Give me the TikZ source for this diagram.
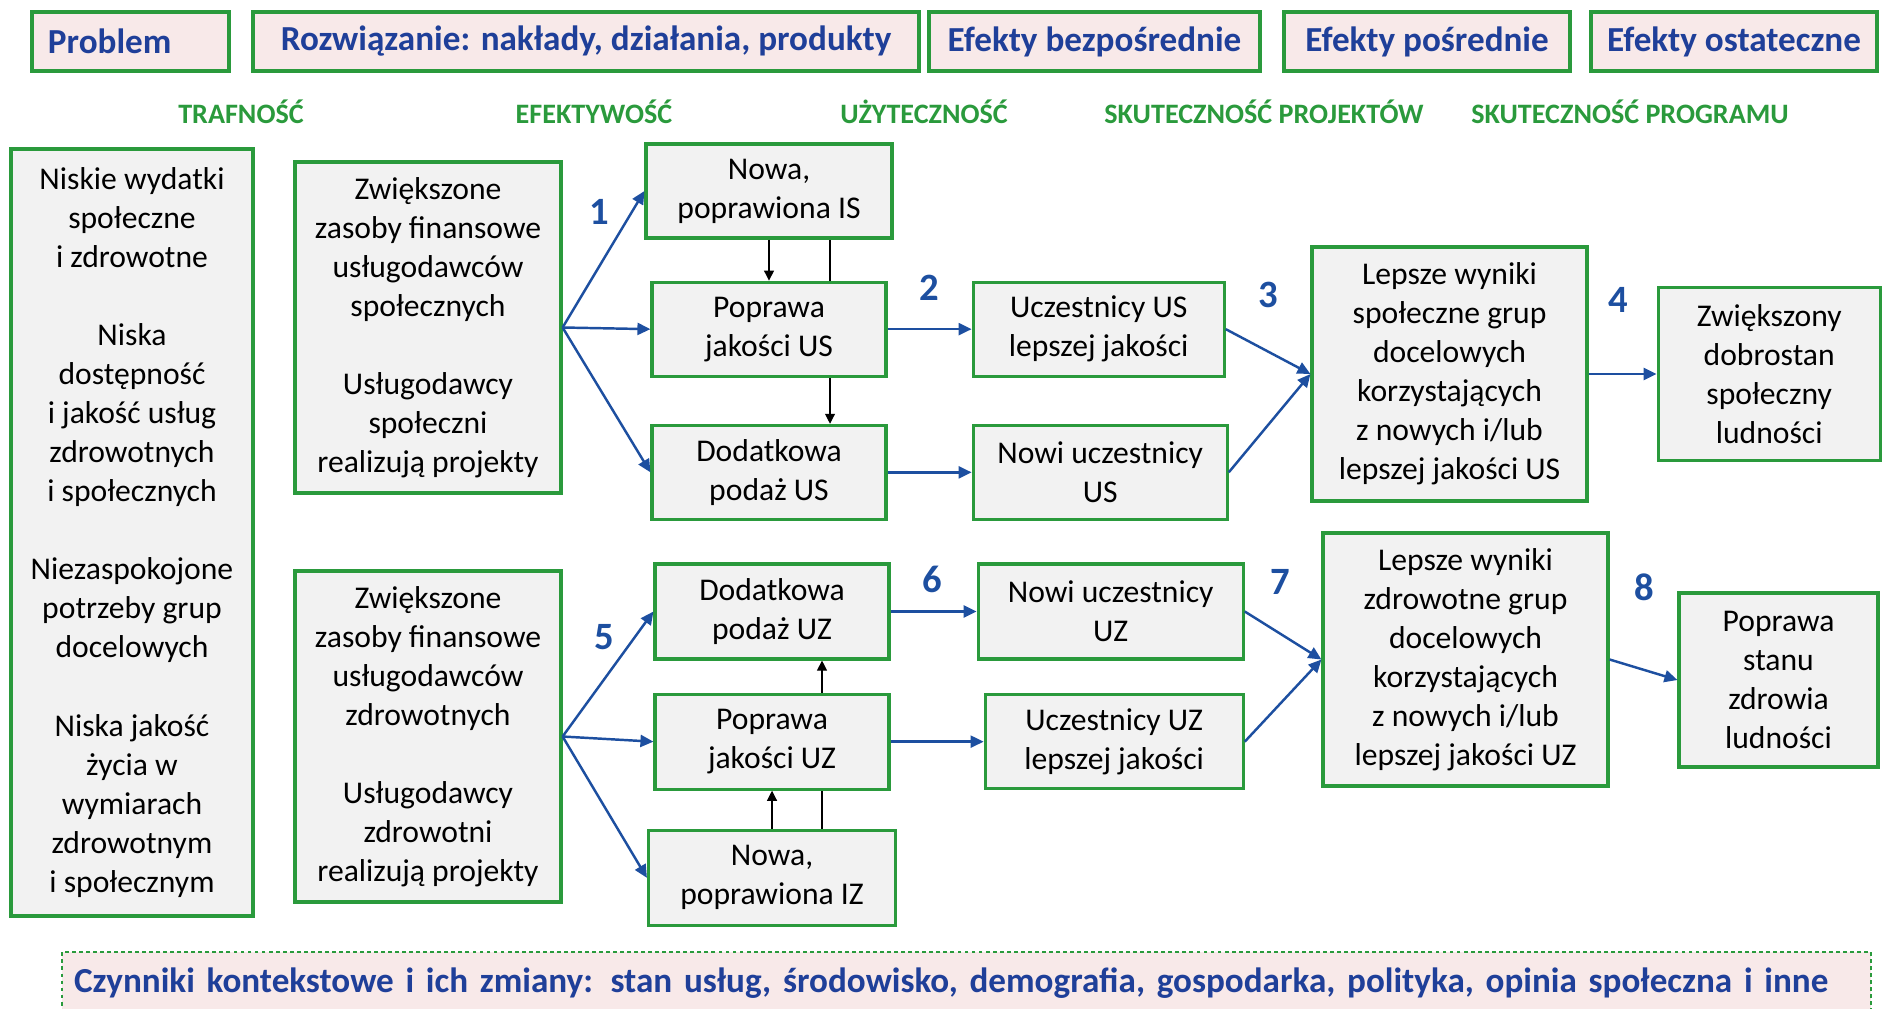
\documentclass[tikz,border=0pt]{standalone}
\usepackage{fontspec}
\setmainfont{Carlito}
\usetikzlibrary{arrows.meta,positioning,backgrounds}
\definecolor{lmgreen}{HTML}{2A9A3C}
\definecolor{lmblue}{HTML}{1F3F99}
\definecolor{lmarrow}{HTML}{1D4FA0}
\definecolor{lmpink}{HTML}{F8E9E9}
\definecolor{lmgrey}{HTML}{F2F2F2}
\tikzset{
  hdr/.style={draw=lmgreen,fill=lmpink,line width=0.9pt,minimum height=5.9mm,
              inner xsep=1.6mm,inner ysep=0pt,outer sep=0pt,text=lmblue,
              font=\fontsize{10}{12}\selectfont\bfseries},
  blok/.style={draw=lmgreen,fill=lmgrey,line width=0.9pt,align=center,
               inner sep=2pt,font=\fontsize{9}{11.1}\selectfont},
  etk/.style={text=lmgreen,inner sep=1pt,font=\fontsize{8}{9}\selectfont\bfseries},
  num/.style={text=lmarrow,inner sep=1pt,font=\fontsize{11}{12}\selectfont\bfseries},
  ctx/.style={draw=lmgreen,fill=lmpink,line width=0.6pt,dash pattern=on 1.1pt off 0.9pt,
              text=lmblue,align=left,inner xsep=1.2mm,inner ysep=0pt,
              font=\fontsize{10}{12}\selectfont\bfseries},
  ar/.style={-{Triangle[length=1.3mm,width=1.2mm]},line width=0.7pt,lmarrow},
  arb/.style={-{Triangle[length=1.0mm,width=1.0mm]},line width=0.3pt,black},
}
\begin{document}
\begin{tikzpicture}[x=1mm,y=1mm,node distance=4mm and 8mm]
  \useasboundingbox (0,0) rectangle (188.7,-100.8);
  \clip (0,0) rectangle (188.7,-100.8);
  % naglowki
  \node[hdr,text width=16.5mm,align=left] (hp) at (13.05,-4.15) {Problem};
  \node[hdr,minimum width=66.6mm,right=2.4mm of hp] (hr) {Rozwiązanie: nakłady, działania, produkty};
  \node[hdr,minimum width=33.1mm,right=1mm of hr] (hb) {Efekty bezpośrednie};
  \node[hdr,minimum width=28.6mm,right=2.4mm of hb] (hpo) {Efekty pośrednie};
  \node[hdr,minimum width=28.6mm,right=2.1mm of hpo] (ho) {Efekty ostateczne};
  \node[etk] (e1) at (24.1,-11.2) {TRAFNOŚĆ};
  \node[etk] (e2) at (59.4,-11.2) {EFEKTYWOŚĆ};
  \node[etk] (e3) at (92.4,-11.2) {UŻYTECZNOŚĆ};
  \node[etk] (e4) at (126.4,-11.2) {SKUTECZNOŚĆ PROJEKTÓW};
  \node[etk] (e5) at (163.0,-11.2) {SKUTECZNOŚĆ PROGRAMU};
  % problem i nakłady
  \node[blok,minimum width=24.2mm,minimum height=76.7mm] (prob) at (13.2,-53.25)
    {Niskie wydatki\\społeczne\\i zdrowotne\\[11.1pt]Niska\\dostępność\\i jakość usług\\zdrowotnych\\i społecznych\\[11.1pt]Niezaspokojone\\potrzeby grup\\docelowych\\[11.1pt]Niska jakość\\życia w\\wymiarach\\zdrowotnym\\i społecznym};
  \node[blok,minimum width=26.6mm,minimum height=33.1mm] (zs) at (42.8,-32.75)
    {Zwiększone\\zasoby finansowe\\usługodawców\\społecznych\\[11.1pt]Usługodawcy\\społeczni\\realizują projekty};
  \node[blok,minimum width=26.6mm,minimum height=33.1mm] (zh) at (42.8,-73.65)
    {Zwiększone\\zasoby finansowe\\usługodawców\\zdrowotnych\\[11.1pt]Usługodawcy\\zdrowotni\\realizują projekty};
  % usługi społeczne
  \node[blok,minimum width=24.6mm,minimum height=9.4mm] (nowaIS) at (76.9,-19.1) {Nowa,\\poprawiona IS};
  \node[blok,minimum width=23.4mm,minimum height=9.4mm,below=4.1mm of nowaIS] (poprUS) {Poprawa\\jakości US};
  \node[blok,minimum width=23.4mm,minimum height=9.4mm,below=4.6mm of poprUS] (dodUS) {Dodatkowa\\podaż US};
  \node[blok,minimum width=25.1mm,minimum height=9.4mm,right=8.4mm of poprUS] (uczUS) {Uczestnicy US\\lepszej jakości};
  \node[blok,minimum width=25.4mm,minimum height=9.4mm,right=8.4mm of dodUS] (nowiUS) {Nowi uczestnicy\\US};
  \node[blok,minimum width=27.5mm,minimum height=25.4mm] (lepUS) at (144.95,-37.4)
    {Lepsze wyniki\\społeczne grup\\docelowych\\korzystających\\z nowych i/lub\\lepszej jakości US};
  \node[blok,minimum width=22.2mm,minimum height=17.3mm,right=6.8mm of lepUS] (dobro)
    {Zwiększony\\dobrostan\\społeczny\\ludności};
  % usługi zdrowotne
  \node[blok,minimum width=23.4mm,minimum height=9.5mm] (dodUZ) at (77.2,-61.15) {Dodatkowa\\podaż UZ};
  \node[blok,minimum width=23.4mm,minimum height=9.5mm,below=3.2mm of dodUZ] (poprUZ) {Poprawa\\jakości UZ};
  \node[blok,minimum width=24.7mm,minimum height=9.5mm,below=3.8mm of poprUZ] (nowaIZ) {Nowa,\\poprawiona IZ};
  \node[blok,minimum width=26.5mm,minimum height=9.5mm,right=8.6mm of dodUZ] (nowiUZ) {Nowi uczestnicy\\UZ};
  \node[blok,minimum width=25.8mm,minimum height=9.4mm,right=9.3mm of poprUZ] (uczUZ) {Uczestnicy UZ\\lepszej jakości};
  \node[blok,minimum width=28.5mm,minimum height=25.3mm] (lepUZ) at (146.55,-65.95)
    {Lepsze wyniki\\zdrowotne grup\\docelowych\\korzystających\\z nowych i/lub\\lepszej jakości UZ};
  \node[blok,minimum width=19.9mm,minimum height=17.4mm] (zdrow) at (177.85,-68.0)
    {Poprawa\\stanu\\zdrowia\\ludności};
  % czynniki kontekstowe
  \node[ctx,anchor=base west,text width=178.5mm,text height=4mm,text depth=6mm] (kont) at (6.1,-99.2)
    {Czynniki kontekstowe i ich zmiany: stan usług, środowisko, demografia, gospodarka, polityka, opinia społeczna i inne};
  % numery
  \node[num] (n1) at (59.9,-21.2) {1};
  \node[num] (n2) at (92.9,-28.8) {2};
  \node[num] (n3) at (126.8,-29.5) {3};
  \node[num] (n4) at (161.8,-30.0) {4};
  \node[num] (n5) at (60.4,-63.7) {5};
  \node[num] (n6) at (93.2,-57.9) {6};
  \node[num] (n7) at (128.0,-58.2) {7};
  \node[num] (n8) at (164.4,-58.7) {8};
  % strzałki
  \draw[ar](zs.east)--(nowaIS.west);\draw[ar](zs.east)--(poprUS.west);\draw[ar](zs.east)--(dodUS.west);
  \draw[ar](poprUS)--(uczUS);\draw[ar](dodUS)--(nowiUS);
  \draw[ar](uczUS.east)--(lepUS.west);\draw[ar](nowiUS.east)--(lepUS.west);
  \draw[ar](lepUS)--(dobro);
  \draw[ar](zh.east)--(dodUZ.west);\draw[ar](zh.east)--(poprUZ.west);\draw[ar](zh.east)--(nowaIZ.west);
  \draw[ar](dodUZ)--(nowiUZ);\draw[ar](poprUZ)--(uczUZ);
  \draw[ar](nowiUZ.east)--(lepUZ.west);\draw[ar](uczUZ.east)--(lepUZ.west);
  \draw[ar](lepUZ.east)--(zdrow.west);
  \draw[arb](nowaIS)--(poprUS);\draw[arb](nowaIZ)--(poprUZ);
  \coordinate (tIS) at ([xshift=6.1mm]nowaIS.south);
  \coordinate (tIZ) at ([xshift=5mm]nowaIZ.north);
  \begin{scope}[on background layer]
    \draw[arb](tIS)--(tIS |- dodUS.north);
    \draw[arb](tIZ)--(tIZ |- dodUZ.south);
  \end{scope}
\end{tikzpicture}
\end{document}
